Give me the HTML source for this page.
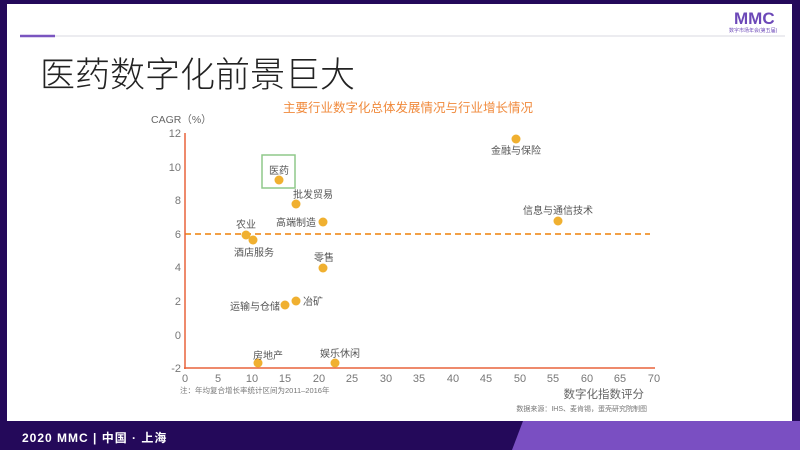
<!DOCTYPE html>
<html><head><meta charset="utf-8"><style>
body{margin:0;width:800px;height:450px;overflow:hidden;background:#24095a;font-family:"Liberation Sans","Noto Sans CJK SC",sans-serif;}
</style></head><body>
<svg width="800" height="450" xmlns="http://www.w3.org/2000/svg" style="position:absolute;left:0;top:0">
<rect x="0" y="0" width="800" height="450" fill="#24095a"/>
<rect x="7" y="4" width="785" height="417" fill="#ffffff"/>
<polygon points="523,421 800,421 800,450 512,450" fill="#7a4fc2"/>
<text x="22" y="442" font-size="12" font-weight="bold" fill="#fff" font-family="Liberation Sans,Noto Sans CJK SC,sans-serif" letter-spacing="1">2020 MMC | 中国 · 上海</text>
<line x1="20" y1="36" x2="785" y2="36" stroke="#d8d8e0" stroke-width="1"/>
<line x1="20" y1="36" x2="55" y2="36" stroke="#7a55c0" stroke-width="2.5"/>
<text x="734" y="24" font-size="17" font-weight="bold" fill="#6c48b8">MMC</text>
<text x="729" y="32" font-size="5" fill="#6c48b8">数字市场年会(第五届)</text>
<text x="40" y="87" font-size="35" fill="#222" font-family="Liberation Sans,Noto Sans CJK SC,sans-serif" font-weight="300">医药数字化前景巨大</text>
<text x="408" y="112" font-size="12.5" fill="#f08a3c" text-anchor="middle">主要行业数字化总体发展情况与行业增长情况</text>
<text x="151" y="123" font-size="10.5" fill="#666">CAGR（%）</text>
<g font-size="11" fill="#777" text-anchor="end">
<text x="181" y="137">12</text><text x="181" y="171">10</text><text x="181" y="204">8</text><text x="181" y="238">6</text><text x="181" y="271">4</text><text x="181" y="305">2</text><text x="181" y="339">0</text><text x="181" y="372">-2</text>
</g>
<g font-size="11" fill="#777" text-anchor="middle">
<text x="185" y="382">0</text><text x="218" y="382">5</text><text x="252" y="382">10</text><text x="285" y="382">15</text><text x="319" y="382">20</text><text x="352" y="382">25</text><text x="386" y="382">30</text><text x="419" y="382">35</text><text x="453" y="382">40</text><text x="486" y="382">45</text><text x="520" y="382">50</text><text x="553" y="382">55</text><text x="587" y="382">60</text><text x="620" y="382">65</text><text x="654" y="382">70</text>
</g>
<line x1="185" y1="234" x2="650" y2="234" stroke="#f0922c" stroke-width="1.8" stroke-dasharray="6,4"/>
<line x1="185" y1="133" x2="185" y2="369" stroke="#e8643c" stroke-width="1.5"/>
<line x1="184" y1="368" x2="655" y2="368" stroke="#e8643c" stroke-width="1.5"/>
<text x="644" y="398" font-size="11.5" fill="#666" text-anchor="end">数字化指数评分</text>
<text x="180" y="393" font-size="7.5" fill="#777">注：年均复合增长率统计区间为2011–2016年</text>
<text x="647" y="411" font-size="7" fill="#777" text-anchor="end">数据来源：IHS、麦肯锡，蛋壳研究院制图</text>
<rect x="262" y="155" width="33" height="33" fill="none" stroke="#8fc98a" stroke-width="1.5"/>
<g fill="#f0b030">
<circle cx="279" cy="180" r="4.5"/><circle cx="296" cy="204" r="4.5"/><circle cx="323" cy="222" r="4.5"/><circle cx="246" cy="235" r="4.5"/><circle cx="253" cy="240" r="4.5"/><circle cx="323" cy="268" r="4.5"/><circle cx="285" cy="305" r="4.5"/><circle cx="296" cy="301" r="4.5"/><circle cx="258" cy="363" r="4.5"/><circle cx="335" cy="363" r="4.5"/><circle cx="516" cy="139" r="4.5"/><circle cx="558" cy="221" r="4.5"/>
</g>
<g font-size="10" fill="#555">
<text x="279" y="174" text-anchor="middle">医药</text>
<text x="313" y="198" text-anchor="middle">批发贸易</text>
<text x="316" y="226" text-anchor="end">高端制造</text>
<text x="246" y="228" text-anchor="middle">农业</text>
<text x="254" y="256" text-anchor="middle">酒店服务</text>
<text x="324" y="261" text-anchor="middle">零售</text>
<text x="280" y="310" text-anchor="end">运输与仓储</text>
<text x="303" y="305">冶矿</text>
<text x="268" y="359" text-anchor="middle">房地产</text>
<text x="340" y="357" text-anchor="middle">娱乐休闲</text>
<text x="516" y="154" text-anchor="middle">金融与保险</text>
<text x="558" y="214" text-anchor="middle">信息与通信技术</text>
</g>
</svg>
</body></html>
